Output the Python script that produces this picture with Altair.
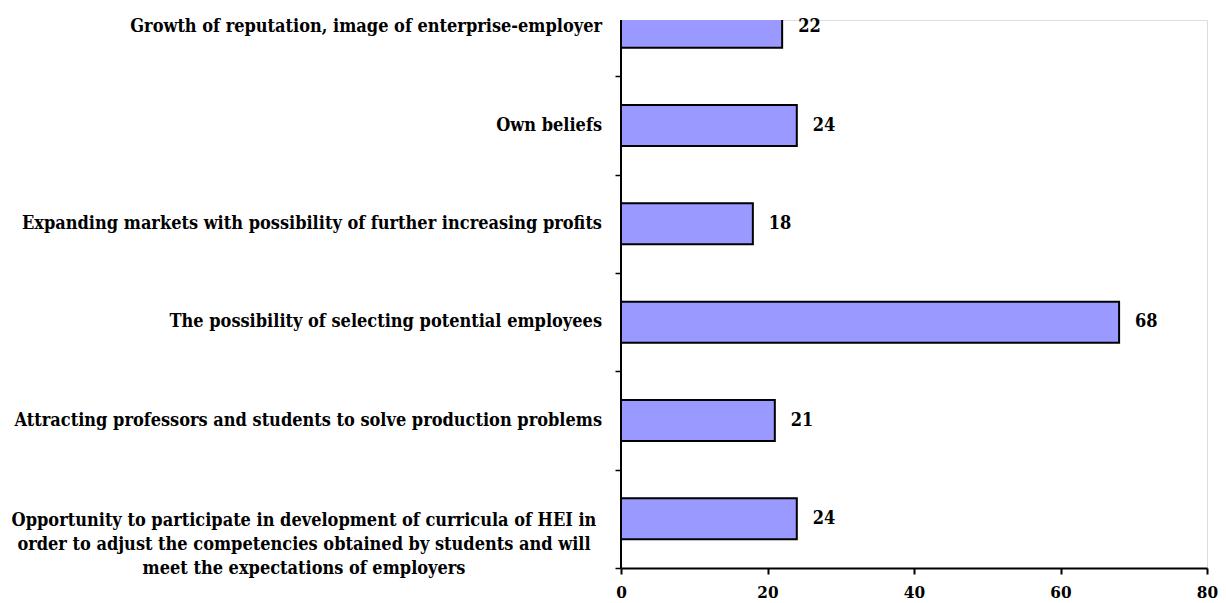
import altair as alt
import pandas as pd

categories = [
    "Growth of reputation, image of enterprise-employer",
    "Own beliefs",
    "Expanding markets with possibility of further increasing profits",
    "The possibility of selecting potential employees",
    "Attracting professors and students to solve production problems",
    "Opportunity to participate in development of curricula of HEI in\norder to adjust the competencies obtained by students and will\nmeet the expectations of employers",
]
values = [22, 24, 18, 68, 21, 24]
x_ticks = [0, 20, 40, 60, 80]

df = pd.DataFrame({"cat": categories, "value": values})

W = 586
H = 548
FONT = "DejaVu Serif Condensed"

yscale = alt.Scale(domain=categories, range=[-42, 548], paddingInner=0.583, paddingOuter=0.2915)
tickscale = alt.Scale(domain=categories, range=[-42, 548], paddingInner=0, paddingOuter=0)
xscale = alt.Scale(domain=[0, 80], nice=False)

base = alt.Chart(df)

bars = base.mark_bar(color="#9999FF", stroke="black", strokeWidth=2, clip=True).encode(
    x=alt.X("value:Q", scale=xscale,
            axis=alt.Axis(values=x_ticks, title=None, grid=False, domainColor="black", domainWidth=2,
                          tickColor="black", tickWidth=2, tickSize=6, labelFont=FONT, labelFontSize=17,
                          labelFontWeight="bold", labelColor="black", labelPadding=10,
                          labelFlush=False)),
    y=alt.Y("cat:N", scale=yscale, sort=categories, axis=None),
)

vals = base.mark_text(align="left", baseline="middle", dx=16, font=FONT, fontSize=18,
                      fontWeight="bold", color="black").encode(
    x=alt.X("value:Q", scale=xscale),
    y=alt.Y("cat:N", scale=yscale, sort=categories, axis=None),
    text="value:Q",
)

single = base.transform_filter("indexof(datum.cat, '\\n') < 0").mark_text(
    align="right", baseline="middle", font=FONT, fontSize=18, fontWeight="bold", color="black"
).encode(
    x=alt.value(-19),
    y=alt.Y("cat:N", scale=yscale, sort=categories, axis=None),
    text="cat:N",
)

multi = base.transform_filter("indexof(datum.cat, '\\n') >= 0").mark_text(
    align="center", baseline="middle", font=FONT, fontSize=18, fontWeight="bold", color="black",
    lineBreak="\n", lineHeight=24, dy=2
).encode(
    x=alt.value(-317),
    y=alt.Y("cat:N", scale=yscale, sort=categories, axis=None),
    text="cat:N",
)

tick_layer = base.mark_point(opacity=0).encode(
    x=alt.value(0),
    y=alt.Y("cat:N", scale=tickscale, sort=categories,
            axis=alt.Axis(orient="left", title=None, labels=False, domain=False, tickBand="extent",
                          tickColor="black", tickWidth=1.5, tickSize=6, grid=False,
                          values=categories[1:])),
)

left_line = alt.Chart(df).mark_rule(color="black", strokeWidth=2).encode(
    x=alt.value(0), y=alt.value(0), y2=alt.value(H)
)

chart = alt.layer(bars, vals, single, multi, tick_layer, left_line).resolve_scale(
    y="independent"
).properties(
    width=W, height=H,
    autosize=alt.AutoSizeParams(type="none"),
    padding={"left": 613, "top": 12, "right": 11, "bottom": 35},
).configure_view(stroke=None).configure(background="white")

chart.save("out.html", embed_options={"renderer": "svg", "actions": False})
